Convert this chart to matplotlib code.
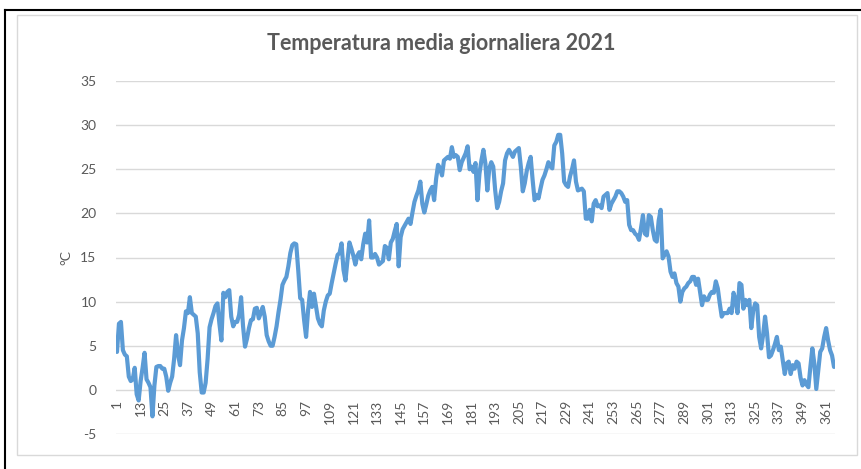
import matplotlib
matplotlib.use("Agg")
import matplotlib.pyplot as plt
from matplotlib.lines import Line2D
from matplotlib.patches import Rectangle

title = "Temperatura media giornaliera 2021"
y_label = "°C"

temps = [
    4.3, 7.5, 7.7, 4.5, 4.0, 3.8, 1.5, 1.0, 1.2, 2.5,
    -0.5, -1.2, 1.0, 2.5, 4.2, 1.2, 0.8, 0.3, -3.0, 0.5,
    2.6, 2.7, 2.7, 2.4, 2.4, 1.5, -0.1, 0.8, 1.5, 3.5,
    6.2, 4.0, 2.8, 5.6, 7.0, 8.9, 8.7, 10.5, 8.7, 8.5,
    8.3, 6.4, 2.0, -0.3, -0.3, 0.8, 3.5, 7.1, 8.0, 8.7,
    9.5, 9.8, 7.5, 5.6, 11.0, 10.5, 11.1, 11.3, 8.3, 7.2,
    7.7, 7.7, 8.5, 10.5, 7.2, 4.9, 5.8, 7.0, 7.9, 8.0,
    9.2, 9.3, 8.1, 8.7, 9.4, 8.3, 6.2, 5.5, 5.0, 5.0,
    6.0, 7.2, 8.8, 10.2, 11.9, 12.4, 12.8, 14.0, 15.5, 16.4,
    16.6, 16.5, 13.6, 10.4, 10.2, 7.9, 6.0, 9.0, 11.1, 9.4,
    10.9, 9.5, 8.1, 7.5, 7.2, 9.0, 10.0, 10.7, 10.9, 12.1,
    13.2, 14.3, 15.3, 15.5, 16.6, 13.6, 12.4, 14.7, 16.7, 16.0,
    15.2, 14.2, 15.2, 15.6, 14.8, 16.5, 17.7, 16.7, 19.2, 15.0,
    15.0, 15.4, 15.0, 14.2, 14.4, 14.6, 16.3, 16.1, 14.8, 16.7,
    17.1, 18.0, 18.8, 14.0, 17.3, 18.2, 18.6, 19.0, 19.4, 18.8,
    20.1, 21.3, 22.0, 22.6, 23.6, 21.1, 20.1, 21.0, 22.0, 22.6,
    23.0, 21.5, 23.9, 25.5, 25.1, 24.3, 26.0, 26.2, 26.4, 26.2,
    27.5, 26.4, 26.6, 26.4, 24.9, 25.8, 26.3, 26.8, 27.6, 25.0,
    25.3, 24.7, 25.7, 21.5, 24.5, 26.0, 27.2, 25.7, 22.6, 25.1,
    25.8, 25.3, 22.6, 20.6, 21.3, 22.5, 23.4, 26.0, 26.8, 27.2,
    26.8, 26.4, 27.0, 27.2, 27.4, 25.3, 22.5, 23.4, 24.8, 25.7,
    26.4, 23.8, 21.5, 22.1, 21.7, 22.8, 23.8, 24.3, 25.0, 25.8,
    25.3, 25.1, 27.7, 28.1, 28.9, 28.9, 26.8, 23.6, 23.2, 23.0,
    24.2, 25.0, 26.0, 23.6, 22.6, 22.7, 22.8, 22.5, 19.4, 19.4,
    20.4, 19.1, 21.1, 21.5, 20.8, 20.9, 20.6, 21.9, 22.1, 22.3,
    20.4, 21.1, 21.5, 21.9, 22.5, 22.5, 22.3, 21.9, 21.3, 21.5,
    18.7, 18.1, 18.1, 17.7, 17.5, 17.0, 18.3, 19.8, 17.7, 17.5,
    19.8, 19.6, 18.1, 17.0, 16.8, 19.2, 20.4, 14.9, 15.3, 15.7,
    15.1, 13.4, 12.8, 13.2, 12.1, 11.7, 10.0, 11.1, 11.5, 11.7,
    12.1, 12.3, 12.8, 12.8, 11.9, 12.6, 11.1, 9.6, 10.6, 10.2,
    10.2, 10.8, 11.1, 11.0, 12.3, 11.5, 9.8, 8.3, 8.7, 8.7,
    8.7, 9.2, 8.7, 11.0, 10.2, 8.7, 12.1, 11.9, 9.2, 10.2,
    9.6, 10.2, 7.0, 9.0, 9.8, 9.6, 6.0, 4.7, 6.2, 8.3,
    6.4, 3.7, 3.9, 4.5, 5.2, 6.0, 4.5, 4.9, 3.3, 1.8,
    3.0, 3.2, 1.8, 2.8, 2.4, 3.2, 3.0, 1.4, 0.5, 1.1,
    0.6, 0.3, 2.6, 4.7, 3.0, 0.1, 2.2, 4.3, 4.7, 6.0,
    7.0, 5.6, 4.5, 3.9, 2.6,
]
days = list(range(1, len(temps) + 1))
x_ticks = list(range(1, 366, 12))
y_ticks = [-5, 0, 5, 10, 15, 20, 25, 30, 35]

plt.rcParams['font.family'] = ['Lato', 'DejaVu Sans']
plt.rcParams['axes.unicode_minus'] = False
text_color = '#595959'

fig = plt.figure(figsize=(8.61, 4.69), dpi=100)
fig.patch.set_facecolor('white')

# outer screenshot frame
fig.add_artist(Line2D([5/861, 5/861], [0, 1 - 10/469], transform=fig.transFigure,
                      color='black', lw=1.5))
fig.add_artist(Line2D([5/861, 1], [1 - 10/469, 1 - 10/469], transform=fig.transFigure,
                      color='black', lw=1.5))
# chart area border
fig.add_artist(Rectangle((17/861, 1 - 455/469), (857 - 17)/861, (455 - 15)/469,
                         transform=fig.transFigure, fill=False, edgecolor='#D9D9D9', lw=1))

ax = fig.add_axes([116/861, 1 - 434/469, (835 - 116)/861, (434 - 81)/469])
ax.plot(days, temps, color='#5B9BD5', lw=3.0, solid_joinstyle='round', solid_capstyle='round')
ax.set_xlim(0.5, 365.5)
ax.set_ylim(-5, 35)
# horizontal axis crosses at 0, labels sit just below it
ax.spines['bottom'].set_position(('data', 0))
for s in ax.spines.values():
    s.set_visible(False)
ax.set_yticks(y_ticks)
ax.set_xticks(x_ticks)
ax.set_xticklabels([str(t) for t in x_ticks])
ax.grid(axis='y', color='#D9D9D9', lw=1)
ax.set_axisbelow(True)
ax.tick_params(axis='both', length=0, colors=text_color, labelsize=10)
ax.tick_params(axis='y', pad=14)
ax.tick_params(axis='x', pad=7, labelrotation=90)

ax.set_ylabel(y_label, color=text_color, fontsize=10, labelpad=6)
fig.text(441/861, 1 - 43/469, title, ha='center', va='center', fontsize=15.5,
         fontweight='bold', color=text_color)

fig.savefig('out.png', dpi=100, facecolor='white')
